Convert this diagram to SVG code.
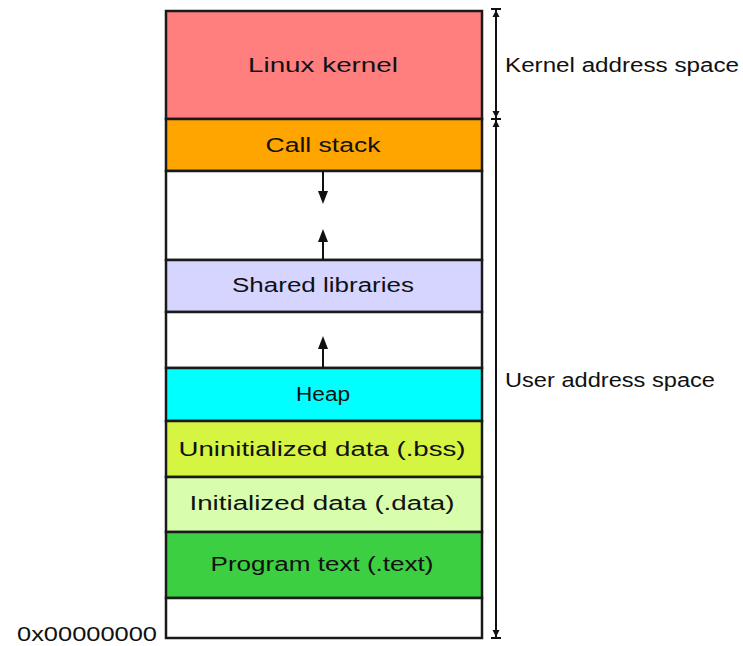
<svg xmlns="http://www.w3.org/2000/svg" width="743" height="646" viewBox="0 0 743 646">
<style>
.seg{stroke:#1a1a1a;stroke-width:2.5}
.t{font-family:"Liberation Sans","DejaVu Sans",sans-serif;font-size:20px;fill:#111;text-anchor:middle;dominant-baseline:central}
.l{font-family:"Liberation Sans","DejaVu Sans",sans-serif;font-size:20px;fill:#111;dominant-baseline:central}
.ln{stroke:#111;stroke-width:2;fill:none}
.hd{fill:#111}
</style>
<rect width="743" height="646" fill="#fff"/>
<g id="kernel"><rect class="seg" x="166" y="11" width="316" height="108" fill="#ff7f7f"/><text class="t" x="323" y="65" textLength="150" lengthAdjust="spacingAndGlyphs">Linux kernel</text></g>
<g id="callstack"><rect class="seg" x="166" y="119" width="316" height="52" fill="#ffa500"/><text class="t" x="323" y="145" textLength="115" lengthAdjust="spacingAndGlyphs">Call stack</text></g>
<g id="gap1"><rect class="seg" x="166" y="171" width="316" height="89" fill="#fff"/></g>
<g id="shared"><rect class="seg" x="166" y="260" width="316" height="52" fill="#d5d5ff"/><text class="t" x="323" y="285" textLength="182" lengthAdjust="spacingAndGlyphs">Shared libraries</text></g>
<g id="gap2"><rect class="seg" x="166" y="312" width="316" height="56" fill="#fff"/></g>
<g id="heap"><rect class="seg" x="166" y="368" width="316" height="53" fill="#00ffff"/><text class="t" x="323" y="394" textLength="54" lengthAdjust="spacingAndGlyphs">Heap</text></g>
<g id="bss"><rect class="seg" x="166" y="421" width="316" height="56" fill="#d6f542"/><text class="t" x="322" y="449" textLength="287" lengthAdjust="spacingAndGlyphs">Uninitialized data (.bss)</text></g>
<g id="data"><rect class="seg" x="166" y="477" width="316" height="55" fill="#d8fdac"/><text class="t" x="322" y="503" textLength="265" lengthAdjust="spacingAndGlyphs">Initialized data (.data)</text></g>
<g id="text"><rect class="seg" x="166" y="532" width="316" height="66" fill="#3ccf42"/><text class="t" x="322" y="564" textLength="223" lengthAdjust="spacingAndGlyphs">Program text (.text)</text></g>
<g id="bottom"><rect class="seg" x="166" y="598" width="316" height="40" fill="#fff"/></g>
<g id="connectors">
<line class="ln" x1="323" y1="171" x2="323" y2="194"/>
<path class="hd" d="M323,204 L318,191 L328,191 z"/>
<line class="ln" x1="323" y1="260" x2="323" y2="240"/>
<path class="hd" d="M323,229 L318,242 L328,242 z"/>
<line class="ln" x1="323" y1="368" x2="323" y2="347"/>
<path class="hd" d="M323,336 L318,349 L328,349 z"/>
<line class="ln" x1="496" y1="9" x2="496" y2="638" stroke-width="2.5"/>
<line class="ln" x1="491" y1="9" x2="501" y2="9"/>
<line class="ln" x1="491" y1="119" x2="501" y2="119"/>
<line class="ln" x1="491" y1="638" x2="501" y2="638"/>
<path class="hd" d="M496,10 L492.5,17 L499.5,17 z"/>
<path class="hd" d="M496,118 L492.5,111 L499.5,111 z"/>
<path class="hd" d="M496,120 L492.5,127 L499.5,127 z"/>
<path class="hd" d="M496,637 L492.5,630 L499.5,630 z"/>
</g>
<g id="labels">
<text class="l" x="505" y="65" textLength="234" lengthAdjust="spacingAndGlyphs">Kernel address space</text>
<text class="l" x="505" y="380" textLength="210" lengthAdjust="spacingAndGlyphs">User address space</text>
<text class="l" x="17" y="634" textLength="140" lengthAdjust="spacingAndGlyphs">0x00000000</text>
</g>
</svg>
